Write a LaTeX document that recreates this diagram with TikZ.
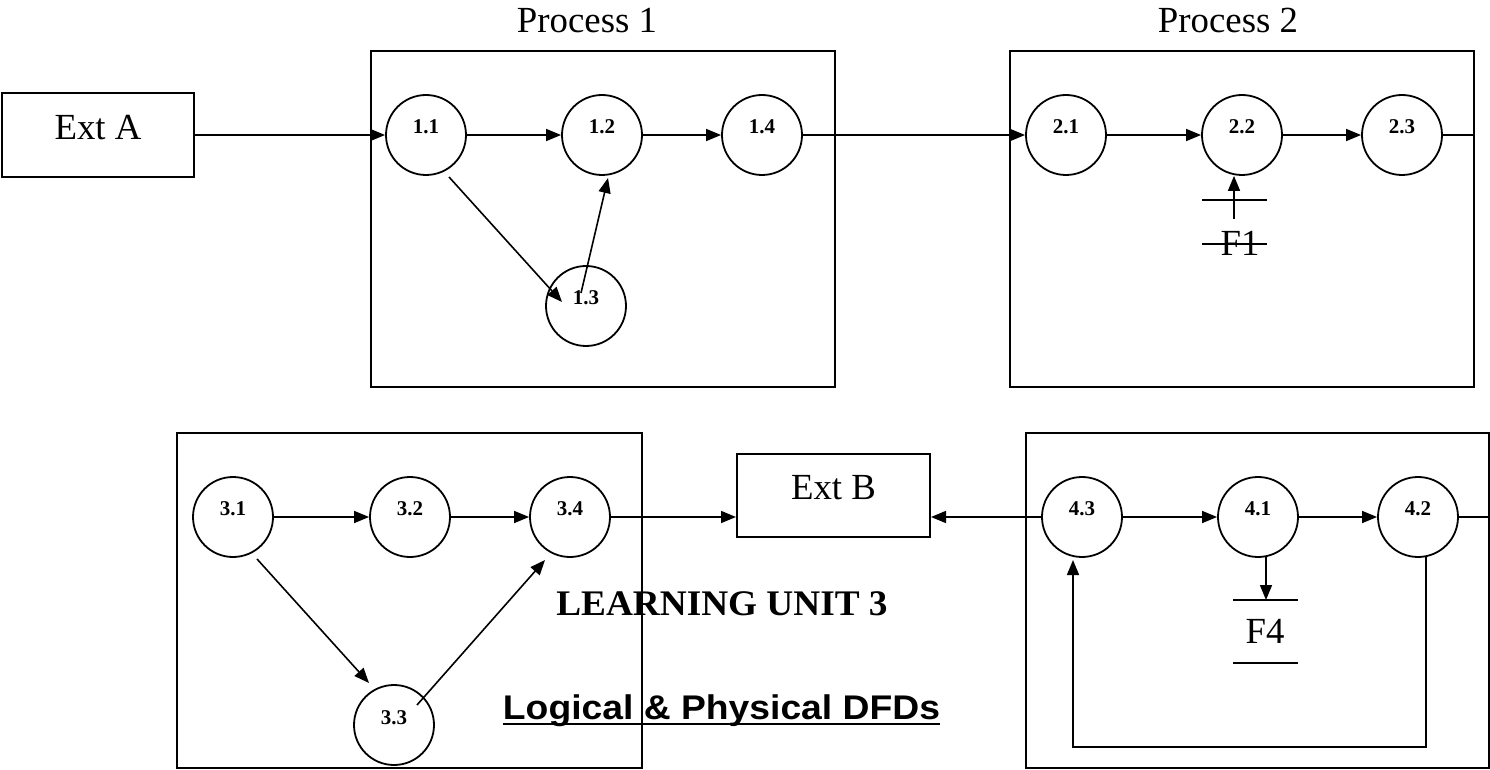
\documentclass[tikz,border=0pt]{standalone}
\usepackage{graphicx}
\usepackage{fontspec}
\setmainfont{Liberation Serif}
\setsansfont{Liberation Sans}
\usetikzlibrary{arrows.meta,calc}
\begin{document}
\begin{tikzpicture}[x=0.5pt,y=-0.5pt,
  conn/.style={line width=0.8pt},
  arr/.style={conn,-{Triangle[length=7.5pt,width=6pt]}},
  proc/.style={circle,draw,line width=0.9pt,minimum size=40pt,inner sep=0pt},
  lbl/.style={anchor=base,inner sep=0pt,font=\fontsize{10.5}{12}\selectfont\bfseries},
  txt/.style={anchor=base,inner sep=0pt,font=\fontsize{18.4}{22}\selectfont},
  cont/.style={draw,line width=1pt},
  extbox/.style={draw,line width=1pt,rectangle,inner sep=0pt}
]
\useasboundingbox (0,0) rectangle (1490,770);

% containers
\draw[cont] (371,51) rectangle (835,387);
\draw[cont] (1010,51) rectangle (1474,387);
\draw[cont] (177,433) rectangle (642,768);
\draw[cont] (1026,433) rectangle (1488.5,768);
\coordinate (b2r) at (1474,0);
\coordinate (b4r) at (1488.5,0);

% titles
\node[txt] (p1) at (587,33) {Process 1};
\node[txt] (p2) at (1228,33) {Process 2};

% externals
\node[extbox,minimum width=96pt,minimum height=42pt] (extA) at (98,135) {};
\node[txt] (extAt) at (98,140) {Ext A};
\node[extbox,minimum width=96.5pt,minimum height=41.5pt] (extB) at (833.5,495.5) {};
\node[txt] (extBt) at (833.5,500) {Ext B};

% processes
\foreach \n/\x/\y/\t in {n11/426/135/1.1, n12/602/135/1.2, n14/762/135/1.4, n13/586/306/1.3,
  n21/1066/135/2.1, n22/1242/135/2.2, n23/1402/135/2.3,
  n31/233/517/3.1, n32/410/517/3.2, n34/570/517/3.4, n33/394/725/3.3,
  n43/1082/517/4.3, n41/1258/517/4.1, n42/1418/517/4.2}{
  \node[proc] (\n) at (\x,\y) {};
  \node[lbl] (\n l) at (\x,\y-1) {\t};
}

% flows row 1
\draw[arr] (extA.east) -- (n11.west);
\draw[arr] (n11.east) -- (n12.west);
\draw[arr] (n12.east) -- (n14.west);
\draw[arr] ($(n11)+(23,42)$) -- ($(n13)+(-24,-4)$);
\draw[arr] ($(n13)+(-5,-13)$) -- ($(n12)+(6,43)$);
\draw[arr] (n14.east) -- (n21.west);
\draw[arr] (n21.east) -- (n22.west);
\draw[arr] (n22.east) -- (n23.west);
\draw[conn] (n23.east) -- (n23.east -| b2r);

% store F1
\coordinate (f1tl) at (1202,200); \coordinate (f1tr) at (1267,200);
\coordinate (f1bl) at (1202,244); \coordinate (f1br) at (1267,244);
\draw[conn] (f1tl) -- (f1tr);
\node[txt] (f1) at (1240,256) {F1};
\draw[conn] (f1bl) -- (f1br);
\coordinate (f1a) at (1234,219);
\draw[arr] (f1a) -- (f1a |- n22.south);

% flows row 2
\draw[arr] (n31.east) -- (n32.west);
\draw[arr] (n32.east) -- (n34.west);
\draw[arr] ($(n31)+(24,42)$) -- ($(n33)+(-25,-42)$);
\draw[arr] ($(n33)+(23,-20)$) -- ($(n34)+(-25,43)$);
\draw[arr] (n34.east) -- (n34.east -| extB.west);
\draw[arr] (n43.west) -- (n43.west -| extB.east);
\draw[arr] (n43.east) -- (n41.west);
\draw[arr] (n41.east) -- (n42.west);
\draw[conn] (n42.east) -- (n42.east -| b4r);

% store F4
\coordinate (f4tl) at (1233,600); \coordinate (f4tr) at (1298,600);
\coordinate (f4bl) at (1233,663); \coordinate (f4br) at (1298,663);
\draw[conn] (f4tl) -- (f4tr);
\draw[conn] (f4bl) -- (f4br);
\node[txt] (f4) at (1265,643) {F4};
\coordinate (f4a) at (1266,600);
\draw[arr] ($(n41)+(8,39)$) -- (f4a);

% loop 4.2 -> 4.3
\draw[arr] ($(n42)+(8,39)$) |- ($(n43)+(-9,230)$) -- ($(n43)+(-9,43)$);

% headings
\node[anchor=base,inner sep=0pt,font=\fontsize{18}{22}\selectfont\bfseries] (lu) at (722,615) {\scalebox{1.035}[1]{LEARNING UNIT 3}};
\node[anchor=base,inner sep=0pt,font=\fontsize{17.1}{20}\selectfont\sffamily\bfseries] (lg) at (721.5,719) {\scalebox{1.09}[1]{Logical \& Physical DFDs}};
\draw[line width=1pt] ([yshift=-2.5pt]lg.base west) -- ([yshift=-2.5pt]lg.base east);
\end{tikzpicture}
\end{document}
